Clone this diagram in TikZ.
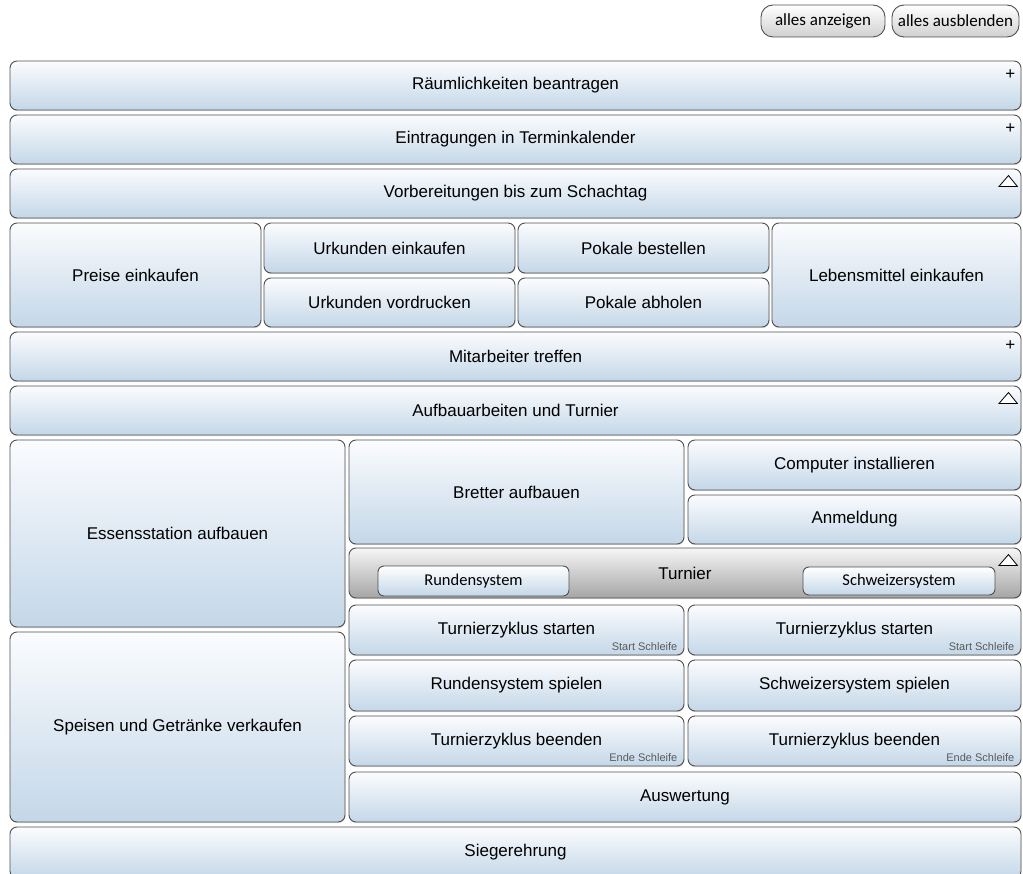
\documentclass[tikz,border=0pt]{standalone}
\usepackage{fontspec}
\setmainfont{Liberation Sans}
\newfontfamily\btnfont{Carlito}
\usetikzlibrary{shadows}

\definecolor{boxtop}{RGB}{251,252,254}
\definecolor{boxbot}{RGB}{196,215,232}
\definecolor{edge}{RGB}{80,80,80}
\definecolor{bartop}{RGB}{246,246,246}
\definecolor{barbot}{RGB}{165,165,165}
\definecolor{btnbot}{RGB}{208,208,208}
\definecolor{notegray}{RGB}{90,90,90}

% a triangle marking an expanded section
\newcommand\collapsemark[1]{%
  \draw[tri] ([xshift=-13pt,yshift=-7pt]#1.north east) -- ++(9,11) -- ++(-18.5,0) -- cycle;}

\begin{document}
\begin{tikzpicture}[x=1pt,y=-1pt,
  % cell={left}{top}{right}{bottom}, all in pixels from the top left corner
  cell/.style n args={4}{minimum width={#3-#1},minimum height={#4-#2},
    at={({(#1+#3)/2},{(#2+#4)/2})}},
  shade/.style={drop shadow={shadow xshift=0.4pt,shadow yshift=-1.2pt,opacity=0.28}},
  blk/.style={draw=edge,line width=0.9pt,rounded corners=7pt,
    top color=boxtop,bottom color=boxbot,inner sep=0pt,
    font=\fontsize{17}{20}\selectfont,shade},
  bar/.style={blk,top color=bartop,bottom color=barbot},
  pill/.style={draw=edge,line width=0.9pt,rounded corners=12pt,
    top color=white,bottom color=btnbot,inner sep=0pt,
    font=\btnfont\fontsize{17}{20}\selectfont},
  subbtn/.style={draw=edge,line width=0.9pt,rounded corners=6pt,
    top color=white,bottom color=boxbot,inner sep=0pt,
    font=\btnfont\fontsize{16.5}{20}\selectfont},
  plus/.style={font=\fontsize{17}{17}\selectfont,inner sep=0pt},
  tri/.style={draw=black,line width=0.8pt,fill=white,line join=miter},
  loopnote/.style={font=\fontsize{11}{12}\selectfont,text=notegray,inner sep=0pt,anchor=base east}
]
\useasboundingbox (0,0) rectangle (1023,874);

% global buttons
\node[pill,cell={761}{5}{885}{37}] (showall) {alles anzeigen};
\node[pill,cell={892}{5}{1019}{37}] (hideall) {alles ausblenden};

% top level steps
\node[blk,cell={10}{61}{1021}{110}] (raum) {Räumlichkeiten beantragen};
\node[blk,cell={10}{115}{1021}{164}] (termin) {Eintragungen in Terminkalender};
\node[blk,cell={10}{169}{1021}{218}] (vorb) {Vorbereitungen bis zum Schachtag};

% preparations
\node[blk,cell={10}{223}{261}{327}] (preise) {Preise einkaufen};
\node[blk,cell={264}{223}{515}{273}] (urkE) {Urkunden einkaufen};
\node[blk,cell={264}{278}{515}{327}] (urkV) {Urkunden vordrucken};
\node[blk,cell={518}{223}{769}{273}] (pokB) {Pokale bestellen};
\node[blk,cell={518}{278}{769}{327}] (pokA) {Pokale abholen};
\node[blk,cell={772}{223}{1021}{327}] (lebens) {Lebensmittel einkaufen};

\node[blk,cell={10}{332}{1021}{381}] (mitarb) {Mitarbeiter treffen};
\node[blk,cell={10}{386}{1021}{435}] (aufbau) {Aufbauarbeiten und Turnier};

% setup and tournament
\node[blk,cell={10}{440}{345}{627}] (essen) {Essensstation aufbauen};
\node[blk,cell={10}{632}{345}{822}] (speisen) {Speisen und Getränke verkaufen};
\node[blk,cell={349}{440}{684}{544}] (bretter) {Bretter aufbauen};
\node[blk,cell={688}{440}{1021}{490}] (comp) {Computer installieren};
\node[blk,cell={688}{495}{1021}{544}] (anm) {Anmeldung};

\node[bar,cell={349}{548}{1021}{598}] (turnier) {Turnier};
\node[subbtn,cell={378}{566}{569}{596}] (runden) {Rundensystem};
\node[subbtn,cell={803}{567}{995}{595}] (schweiz) {Schweizersystem};

\node[blk,cell={349}{605}{684}{655}] (startL) {Turnierzyklus starten};
\node[blk,cell={688}{605}{1021}{655}] (startR) {Turnierzyklus starten};
\node[blk,cell={349}{660}{684}{711}] (rundSp) {Rundensystem spielen};
\node[blk,cell={688}{660}{1021}{711}] (schwSp) {Schweizersystem spielen};
\node[blk,cell={349}{716}{684}{766}] (endL) {Turnierzyklus beenden};
\node[blk,cell={688}{716}{1021}{766}] (endR) {Turnierzyklus beenden};
\node[blk,cell={349}{772}{1021}{822}] (ausw) {Auswertung};

\node[blk,cell={10}{827}{1021}{878}] (sieger) {Siegerehrung};

% loop markers
\node[loopnote] at ([xshift=-7pt,yshift=4.5pt]startL.south east) {Start Schleife};
\node[loopnote] at ([xshift=-7pt,yshift=4.5pt]startR.south east) {Start Schleife};
\node[loopnote] at ([xshift=-7pt,yshift=4.5pt]endL.south east) {Ende Schleife};
\node[loopnote] at ([xshift=-7pt,yshift=4.5pt]endR.south east) {Ende Schleife};

% expand / collapse markers
\node[plus] at ([xshift=-11pt,yshift=-14.5pt]raum.north east) {+};
\node[plus] at ([xshift=-11pt,yshift=-14.5pt]termin.north east) {+};
\node[plus] at ([xshift=-11pt,yshift=-14.5pt]mitarb.north east) {+};
\collapsemark{vorb}
\collapsemark{aufbau}
\collapsemark{turnier}
\end{tikzpicture}
\end{document}
